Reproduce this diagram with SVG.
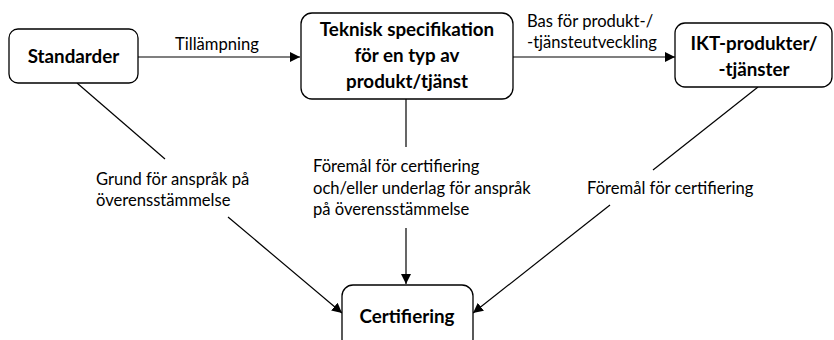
<svg xmlns="http://www.w3.org/2000/svg" width="834" height="340" viewBox="0 0 834 340">
<style>
.box{fill:#fff;stroke:#000;stroke-width:1.3}
.t{font-family:Lato,"Liberation Sans",sans-serif;font-size:16.6px;fill:#000}
.b{font-family:Lato,"Liberation Sans",sans-serif;font-size:18.8px;font-weight:bold;fill:#000;text-anchor:middle}
.ln{stroke:#000;stroke-width:1.2;fill:none}
</style>
<defs>
<marker id="ah" viewBox="0 0 10 10" refX="10" refY="5" markerWidth="10" markerHeight="10" markerUnits="userSpaceOnUse" orient="auto">
<path d="M0,0 L10,5 L0,10 z" fill="#000"/>
</marker>
</defs>
<rect width="834" height="340" fill="#fff"/>
<g id="connectors">
<line class="ln" x1="138" y1="57" x2="300" y2="57" marker-end="url(#ah)"/>
<text class="t" x="175" y="50">Tillämpning</text>
<line class="ln" x1="513" y1="57" x2="675" y2="57" marker-end="url(#ah)"/>
<text class="t" x="527" y="27">Bas för produkt-/</text>
<text class="t" x="527" y="48">-tjänsteutveckling</text>
<line class="ln" x1="77" y1="83" x2="165" y2="159"/>
<line class="ln" x1="228" y1="217" x2="342" y2="313" marker-end="url(#ah)"/>
<text class="t" x="96" y="185">Grund för anspråk på</text>
<text class="t" x="96" y="206">överensstämmelse</text>
<line class="ln" x1="406" y1="99" x2="406" y2="147"/>
<line class="ln" x1="406" y1="228" x2="406" y2="284" marker-end="url(#ah)"/>
<text class="t" x="313" y="172">Föremål för certifiering</text>
<text class="t" x="313" y="193.5">och/eller underlag för anspråk</text>
<text class="t" x="313" y="215">på överensstämmelse</text>
<line class="ln" x1="758" y1="87" x2="653" y2="170"/>
<line class="ln" x1="610" y1="205" x2="473" y2="313" marker-end="url(#ah)"/>
<text class="t" x="587" y="194">Föremål för certifiering</text>
</g>
<g id="standarder">
<rect class="box" x="9" y="29" width="129" height="54" rx="9"/>
<text class="b" x="73.5" y="63">Standarder</text>
</g>
<g id="teknisk">
<rect class="box" x="301" y="13" width="212" height="86" rx="11"/>
<text class="b" x="407" y="36">Teknisk specifikation</text>
<text class="b" x="407" y="62">för en typ av</text>
<text class="b" x="407" y="88">produkt/tjänst</text>
</g>
<g id="ikt">
<rect class="box" x="675" y="23" width="157" height="64" rx="10"/>
<text class="b" x="754" y="50">IKT-produkter/</text>
<text class="b" x="754" y="76">-tjänster</text>
</g>
<g id="certifiering">
<rect class="box" x="342" y="285" width="131" height="65" rx="11"/>
<text class="b" x="407" y="323">Certifiering</text>
</g>
</svg>
